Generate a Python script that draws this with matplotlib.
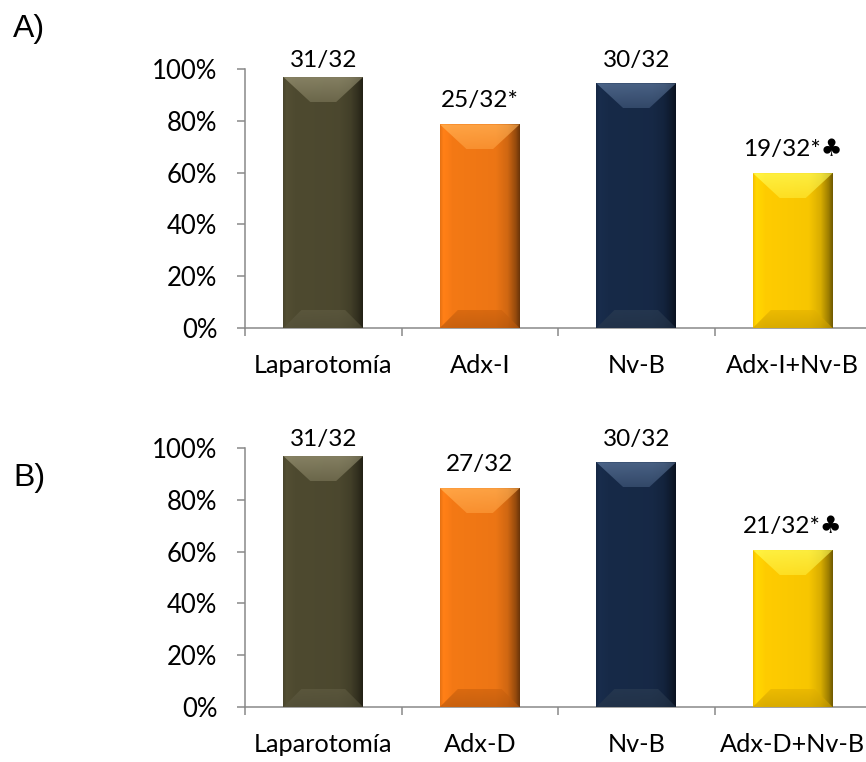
import numpy as np
import matplotlib
matplotlib.use("Agg")
import matplotlib.pyplot as plt
from matplotlib.colors import to_rgb
from matplotlib.patches import Polygon

# ── data ──────────────────────────────────────────────────────────────
cats_a = ["Laparotomía", "Adx-I", "Nv-B", "Adx-I+Nv-B"]
vals_a = [0.969, 0.786, 0.945, 0.598]
labels_a = ["31/32", "25/32*", "30/32", "19/32*♣"]

cats_b = ["Laparotomía", "Adx-D", "Nv-B", "Adx-D+Nv-B"]
vals_b = [0.969, 0.845, 0.945, 0.606]
labels_b = ["31/32", "27/32", "30/32", "21/32*♣"]

y_ticks = [0.0, 0.2, 0.4, 0.6, 0.8, 1.0]
y_ticklabels = ["0%", "20%", "40%", "60%", "80%", "100%"]

# ── style ─────────────────────────────────────────────────────────────
FACE = ["#4E4A30", "#F47915", "#172A48", "#FFCC00"]
TOP_BEVEL = ["#858062", "#FFA445", "#4A6285", "#FFF040"]
BOT_BEVEL = ["#5A563C", "#DB6A10", "#24364F", "#EDBB00"]
AXIS_GREY = "#898989"
FONT = ["Lato", "DejaVu Sans"]

W_PX, H_PX, DPI = 866, 762, 100
BAR_W = 0.51


def shade(color, f):
    c = np.array(to_rgb(color)) * f
    return np.clip(c, 0, 1)


def grad_patch(ax, poly, c_start, c_end, prof, extent):
    # vertical blend c_start (top) -> c_end (bottom), times horizontal profile
    ny = 24
    v = np.linspace(0, 1, ny)[:, None, None]
    a = np.array(to_rgb(c_start))[None, None, :]
    b = np.array(to_rgb(c_end))[None, None, :]
    col = a * (1 - v) + b * v
    hp = (0.6 + 0.4 * prof)[None, :, None]
    img = np.clip(col * hp, 0, 1)
    im = ax.imshow(img, extent=extent, aspect="auto", zorder=4,
                   interpolation="bilinear")
    im.set_clip_path(poly)


def draw_panel(ax, cats, vals, labels, ax_w_px, ax_h_px):
    x = np.arange(len(cats)) + 0.5
    bars = ax.bar(x, vals, width=BAR_W, color=FACE, linewidth=0, zorder=2)

    px_x = 4.0 / ax_w_px   # data units per pixel
    px_y = 1.0 / ax_h_px

    t = np.linspace(0, 1, 80)
    prof = np.interp(t, [0, 0.04, 0.15, 0.7, 0.85, 0.95, 1.0],
                     [0.95, 1.06, 1.0, 0.97, 0.85, 0.62, 0.45])

    for i, rect in enumerate(bars):
        x0, w, h = rect.get_x(), rect.get_width(), rect.get_height()
        grad = np.array([shade(FACE[i], f) for f in prof])[None, :, :]
        im = ax.imshow(grad, extent=(x0, x0 + w, 0, h), aspect="auto",
                       zorder=3, interpolation="bilinear")
        im.set_clip_path(rect)

        dx, dy = 27 * px_x, 25 * px_y
        top = Polygon([(x0, h), (x0 + w, h), (x0 + w - dx, h - dy),
                       (x0 + dx, h - dy)], closed=True,
                      facecolor="none", edgecolor="none", zorder=4)
        ax.add_patch(top)
        mid = 0.55 * np.array(to_rgb(TOP_BEVEL[i])) + 0.45 * np.array(to_rgb(FACE[i]))
        grad_patch(ax, top, TOP_BEVEL[i], mid, prof,
                   (x0, x0 + w, h - dy, h))

        dxb, dyb = 18 * px_x, 18 * px_y
        bot = Polygon([(x0, 0), (x0 + w, 0), (x0 + w - dxb, dyb),
                       (x0 + dxb, dyb)], closed=True,
                      facecolor="none", edgecolor="none", zorder=4)
        ax.add_patch(bot)
        grad_patch(ax, bot, BOT_BEVEL[i], shade(BOT_BEVEL[i], 0.92), prof,
                   (x0, x0 + w, 0, dyb))

        ly = min(h + 17 * px_y, 1.0 + 2 * px_y)
        ax.text(x0 + w / 2, ly, labels[i], ha="center", va="baseline",
                fontsize=17.5, family=FONT, color="black", zorder=5)

    ax.set_xlim(0, 4)
    ax.set_ylim(0, 1)
    for s in ("top", "right"):
        ax.spines[s].set_visible(False)
    for s in ("left", "bottom"):
        ax.spines[s].set_color(AXIS_GREY)
        ax.spines[s].set_linewidth(1.1)

    ax.set_xticks(np.arange(5))
    ax.set_xticklabels([])
    ax.set_xticks(x, minor=True)
    ax.set_xticklabels(cats, minor=True, fontsize=18.2, family=FONT)
    ax.tick_params(axis="x", which="major", length=5.8, width=1.1,
                   color=AXIS_GREY, direction="out")
    ax.tick_params(axis="x", which="minor", length=0, pad=19)

    ax.set_yticks(y_ticks)
    ax.set_yticklabels(y_ticklabels, fontsize=18.5, family=FONT)
    ax.tick_params(axis="y", length=5.8, width=1.1, color=AXIS_GREY,
                   direction="out", pad=14)


fig = plt.figure(figsize=(W_PX / DPI, H_PX / DPI), dpi=DPI)

left, right = 245, 871
ax_w_px = right - left
ax_h_px = 259

ax_a = fig.add_axes([left / W_PX, (H_PX - 328) / H_PX,
                     ax_w_px / W_PX, ax_h_px / H_PX])
ax_b = fig.add_axes([left / W_PX, (H_PX - 707) / H_PX,
                     ax_w_px / W_PX, ax_h_px / H_PX])

draw_panel(ax_a, cats_a, vals_a, labels_a, ax_w_px, ax_h_px)
draw_panel(ax_b, cats_b, vals_b, labels_b, ax_w_px, ax_h_px)

fig.text(13 / W_PX, (H_PX - 37) / H_PX, "A)", fontsize=23,
         family="Liberation Sans", va="baseline", ha="left")
fig.text(13 / W_PX, (H_PX - 486) / H_PX, "B)", fontsize=23,
         family="Liberation Sans", va="baseline", ha="left")

fig.savefig("out.png", dpi=DPI)
